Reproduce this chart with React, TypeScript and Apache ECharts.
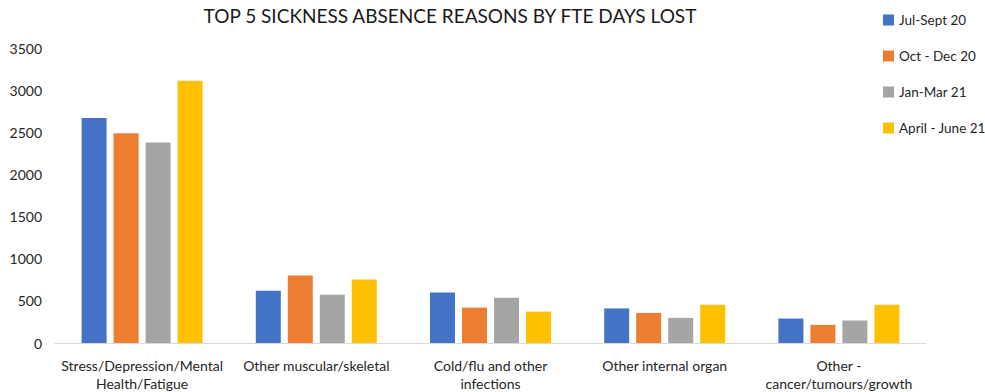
import React, { useEffect, useRef } from "react";
import * as echarts from "echarts";

// Sickness absence: FTE days lost per quarter for the top 5 reasons
const categories = [
  "Stress/Depression/Mental Health/Fatigue",
  "Other muscular/skeletal",
  "Cold/flu and other infections",
  "Other internal organ",
  "Other - cancer/tumours/growth",
];
const quarters = ["Jul-Sept 20", "Oct - Dec 20", "Jan-Mar 21", "April - June 21"];
const julSept20 = [2670, 620, 600, 410, 290];
const octDec20 = [2490, 800, 420, 357, 215];
const janMar21 = [2380, 573, 538, 298, 267];
const aprJun21 = [3110, 753, 373, 455, 455];
const yTicks = { min: 0, max: 3500, interval: 500 };

const palette = ["#4472C4", "#ED7D31", "#A5A5A5", "#FFC000"];
const font = "Lato, 'Open Sans', sans-serif";

// Two-line category labels: break before the second part of the long names
const wrapLabel = (v: string) => v.replace(/ (?=Health|infections|cancer)/, "\n");

export default function App() {
  const ref = useRef<HTMLDivElement>(null);

  useEffect(() => {
    if (!ref.current) return;
    const chart = echarts.init(ref.current, null, { renderer: "svg" });
    const values = [julSept20, octDec20, janMar21, aprJun21];
    chart.setOption({
      animation: false,
      backgroundColor: "#ffffff",
      color: palette,
      textStyle: { fontFamily: font },
      title: {
        text: "TOP 5 SICKNESS ABSENCE REASONS BY FTE DAYS LOST",
        left: 445,
        textAlign: "center",
        top: 1,
        textStyle: { fontFamily: font, fontSize: 19, fontWeight: "normal", color: "#1a1a1a" },
      },
      legend: {
        orient: "vertical",
        left: 878,
        top: 8,
        itemWidth: 11,
        itemHeight: 11,
        itemGap: 22,
        icon: "rect",
        textStyle: { fontFamily: font, fontSize: 13.5, color: "#262626" },
        data: quarters,
      },
      grid: { left: 55, right: 59, top: 48, bottom: 46, containLabel: false },
      xAxis: {
        type: "category",
        data: categories,
        axisLine: { lineStyle: { color: "#d9d9d9", width: 1 } },
        axisTick: { show: false },
        axisLabel: {
          interval: 0,
          fontFamily: font,
          fontSize: 14,
          color: "#262626",
          margin: 13,
          lineHeight: 18,
          formatter: wrapLabel,
        },
      },
      yAxis: {
        type: "value",
        min: yTicks.min,
        max: yTicks.max,
        interval: yTicks.interval,
        splitLine: { show: false },
        axisLine: { show: false },
        axisTick: { show: false },
        axisLabel: {
          fontFamily: font,
          fontSize: 14,
          color: "#262626",
          margin: 13,
          formatter: (v: number) => String(v),
        },
      },
      series: quarters.map((name, i) => ({
        name,
        type: "bar",
        data: values[i],
        barWidth: 25,
        barGap: "28%",
        itemStyle: { color: palette[i] },
      })),
    });
    return () => chart.dispose();
  }, []);

  return (
    <div
      ref={ref}
      style={{ position: "fixed", left: 0, top: 0, width: 985, height: 392, background: "#fff" }}
    />
  );
}
